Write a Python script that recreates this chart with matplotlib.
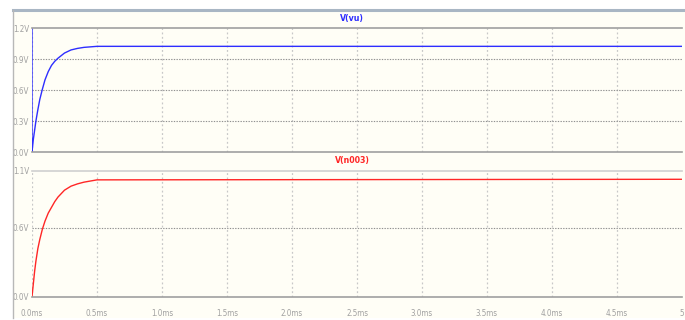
import matplotlib.pyplot as plt
from matplotlib.lines import Line2D
from matplotlib.patches import Rectangle

# transient traces, time in ms, voltage in V
t_vu = [0, 0, 0.01, 0.02, 0.03, 0.045, 0.06, 0.08, 0.1, 0.125, 0.15, 0.175,
        0.2, 0.25, 0.3, 0.35, 0.4, 0.45, 0.5, 5.0]
v_vu = [1.3, 0, 0.12, 0.21, 0.30, 0.41, 0.51, 0.61, 0.70, 0.78, 0.84, 0.88,
        0.91, 0.96, 0.99, 1.005, 1.015, 1.02, 1.025, 1.025]

t_n003 = [0, 0.01, 0.02, 0.03, 0.045, 0.06, 0.08, 0.1, 0.125, 0.15, 0.175,
          0.2, 0.25, 0.3, 0.35, 0.4, 0.45, 0.5, 5.0]
v_n003 = [0, 0.11, 0.22, 0.31, 0.42, 0.50, 0.59, 0.66, 0.73, 0.78, 0.83,
          0.87, 0.93, 0.965, 0.985, 1.0, 1.01, 1.02, 1.025]

x_ticks = [0, 0.5, 1.0, 1.5, 2.0, 2.5, 3.0, 3.5, 4.0, 4.5, 5.0]
x_labels = ['0.0ms', '0.5ms', '1.0ms', '1.5ms', '2.0ms', '2.5ms', '3.0ms',
            '3.5ms', '4.0ms', '4.5ms', '5']
y_ticks_top = [0.0, 0.3, 0.6, 0.9, 1.2]
y_labels_top = ['0.0V', '0.3V', '0.6V', '0.9V', '1.2V']
y_ticks_bot = [0.0, 0.6, 1.1]
y_labels_bot = ['0.0V', '0.6V', '1.1V']

W, H = 685, 320
cream = '#fffef6'
tick_gray = '#a0a0a0'
fnt = ['DejaVu Sans']

fig = plt.figure(figsize=(W / 100, H / 100), dpi=100)
fig.patch.set_facecolor('white')


def fx(px):
    return px / W


def fy(py):
    return 1 - py / H


# window background and border
fig.add_artist(Rectangle((fx(13), fy(318)), fx(W - 13), fy(10) - fy(318),
                         transform=fig.transFigure, facecolor=cream,
                         edgecolor='none', zorder=0))
fig.add_artist(Line2D([fx(13), 1], [fy(10), fy(10)], transform=fig.transFigure,
                      color='#a9b6c4', lw=2.2))
fig.add_artist(Line2D([fx(13), fx(13)], [fy(10), fy(318)],
                      transform=fig.transFigure, color='#b8b8b8', lw=1))

left, right = 32, 682
ax1 = fig.add_axes([fx(left), fy(152), fx(right - left), fy(28.3) - fy(152)])
ax2 = fig.add_axes([fx(left), fy(296.7), fx(right - left), fy(170.7) - fy(296.7)])

panes = [
    (ax1, t_vu, v_vu, '#2e2eff', 'V(vu)', 1.2, y_ticks_top, y_labels_top, '#a0a0a0', 19),
    (ax2, t_n003, v_n003, '#ff2626', 'V(n003)', 1.1, y_ticks_bot, y_labels_bot, '#d0d0d0', 161),
]
for ax, t, v, col, name, ymax, yt, yl, top_col, title_y in panes:
    ax.set_facecolor(cream)
    ax.plot(t, v, color=col, lw=1.0, clip_on=True)
    ax.set_xlim(0, 5)
    ax.set_ylim(0, ymax)
    ax.set_xticks(x_ticks)
    ax.set_yticks(yt)
    ax.set_yticklabels(yl, fontsize=5.8, color=tick_gray, family=fnt,
                       fontstretch='condensed')
    ax.tick_params(length=0, pad=2)
    for s in ('left', 'right'):
        ax.spines[s].set_visible(False)
    ax.spines['top'].set_color(top_col)
    ax.spines['bottom'].set_color('#a0a0a0')
    ax.spines['top'].set_linewidth(1.2)
    ax.spines['bottom'].set_linewidth(1.2)
    for xv in x_ticks[:-1]:
        ax.axvline(xv, color='#c8c8c8', lw=0.9, ls=(0, (1.5, 2)), zorder=0)
    for yv in yt[1:-1]:
        ax.axhline(yv, color='#909090', lw=0.8, ls=(0, (1.2, 1.2)), zorder=0)
    fig.text(fx(352), fy(title_y), name, color=col, fontsize=6.3,
             fontweight='bold', family=fnt, fontstretch='condensed',
             ha='center', va='center')

ax1.set_xticklabels([])
ax2.set_xticklabels(x_labels, fontsize=5.8, color=tick_gray, family=fnt,
                    fontstretch='condensed')
ax2.tick_params(axis='x', pad=9)

fig.savefig('out.png', dpi=100, facecolor='white')
